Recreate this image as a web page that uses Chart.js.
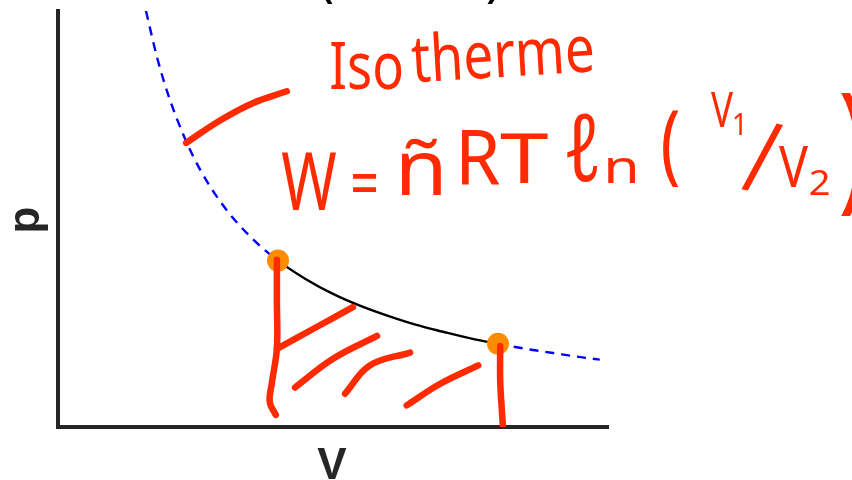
<!DOCTYPE html>
<html>
<head>
<meta charset="utf-8">
<script src="https://cdn.jsdelivr.net/npm/chart.js@4"></script>
<style>
  html, body { margin: 0; padding: 0; background: #fff; overflow: hidden; }
  #wrap { width: 852px; height: 480px; }
</style>
</head>
<body>
<div id="wrap"><canvas id="pv" width="852" height="480"></canvas></div>
<script>
// isotherm p = nRT / V (arbitrary units)
const isoV = [1.6, 1.8, 2.0, 2.3, 2.6, 3.0, 3.5, 4.0, 4.5, 5.0, 5.5, 6.0, 6.5, 7.0, 7.5, 8.0, 8.5, 9.0, 9.5, 9.85];
const isoP = [10.0, 8.89, 8.0, 6.96, 6.15, 5.33, 4.57, 4.0, 3.56, 3.2, 2.91, 2.67, 2.46, 2.29, 2.13, 2.0, 1.88, 1.78, 1.68, 1.62];

// start and end state of the expansion
const stateV = [4, 8];
const stateP = [4, 2];
const V1 = stateV[0], V2 = stateV[1];

// hand-drawn strokes, as [V, p] pairs
const pointerStroke = [[2.33, 6.83], [2.96, 7.38], [3.55, 7.79], [4.16, 8.07]];
const leftStroke = [[3.98, 4.02], [3.98, 3.02], [3.98, 1.90], [3.89, 1.07], [3.85, 0.60], [3.96, 0.29]];
const rightStroke = [[8.04, 1.95], [8.04, 1.12], [8.07, 0.40], [8.09, 0.0]];
const hatch1 = [[3.98, 1.88], [4.67, 2.38], [5.36, 2.88]];
const hatch2 = [[4.31, 0.95], [5.0, 1.64], [5.8, 2.19]];
const hatch3 = [[5.22, 0.80], [5.67, 1.48], [6.4, 1.79]];
const hatch4 = [[6.34, 0.52], [6.95, 1.04], [7.64, 1.48]];

const AXIS = '#262626';
const PEN = '#ff2a00';

const pts = arr => arr.map(([x, y]) => ({ x, y }));

function penStroke(arr) {
  return {
    data: pts(arr),
    showLine: true,
    borderColor: PEN,
    borderWidth: 6.5,
    borderCapStyle: 'round',
    borderJoinStyle: 'round',
    tension: 0.4,
    pointRadius: 0,
    fill: false
  };
}

// fit a string's ink box into [x0, x1] x [y0, y1]
function ink(ctx, text, font, box, rot) {
  ctx.save();
  ctx.font = font;
  ctx.textAlign = 'left';
  ctx.textBaseline = 'alphabetic';
  const m = ctx.measureText(text);
  const w = m.actualBoundingBoxLeft + m.actualBoundingBoxRight;
  const h = m.actualBoundingBoxAscent + m.actualBoundingBoxDescent;
  const [x0, x1, y0, y1] = box;
  const sy = (y1 - y0) / h;
  let sx = (x1 - x0) / w;
  sx = Math.min(Math.max(sx, sy * 0.75), sy * 1.3);
  ctx.translate((x0 + x1) / 2, (y0 + y1) / 2);
  if (rot) ctx.rotate(rot);
  ctx.scale(sx, sy);
  const cx = (m.actualBoundingBoxRight - m.actualBoundingBoxLeft) / 2;
  const cy = (m.actualBoundingBoxDescent - m.actualBoundingBoxAscent) / 2;
  ctx.fillText(text, -cx, -cy);
  ctx.restore();
}

const notes = {
  id: 'notes',
  afterDatasetsDraw(chart) {
    const ctx = chart.ctx;
    const area = chart.chartArea;

    // axis labels
    ctx.save();
    ctx.fillStyle = AXIS;
    ctx.font = 'bold 44px "Liberation Sans", Arial, sans-serif';
    ctx.textAlign = 'center';
    ctx.textBaseline = 'alphabetic';
    ctx.fillText('V', (area.left + area.right) / 2 - 1, area.bottom + 52);
    ctx.translate(area.left - 19, (area.top + area.bottom) / 2 + 1);
    ctx.rotate(-Math.PI / 2);
    ctx.fillText('p', 0, 0);
    ctx.restore();

    // title, sitting mostly above the frame
    ctx.save();
    ctx.fillStyle = '#000';
    ctx.font = 'bold 33px "Liberation Sans", Arial, sans-serif';
    ctx.textAlign = 'center';
    ctx.fillText('(T = konst.)', 410, -3);
    ctx.restore();

    // handwritten notes
    ctx.save();
    ctx.fillStyle = PEN;
    const f = '400 60px "Noto Sans", "DejaVu Sans", sans-serif';
    ink(ctx, 'Iso', f, [331, 402, 42, 90]);
    ink(ctx, 'therme', f, [411, 592, 27, 78], -0.06);
    ink(ctx, 'W', f, [283, 335, 153, 210]);
    ink(ctx, '=', f, [354, 375, 173, 192]);
    ink(ctx, 'ñ', f, [402, 442, 137, 195]);
    ink(ctx, 'R', f, [461, 500, 130, 185]);
    ink(ctx, 'T', f, [500, 548, 133, 183]);
    ink(ctx, 'ℓ', f, [567, 598, 113, 183]);
    ink(ctx, 'n', f, [606, 638, 158, 183]);
    ink(ctx, '(', f, [663, 679, 110, 188]);
    ink(ctx, 'V', f, [711, 733, 92, 127]);
    ink(ctx, '1', f, [734, 742, 113, 135]);
    ink(ctx, '/', f, [753, 771, 121, 193], 0.22);
    ink(ctx, 'V', f, [779, 808, 147, 187]);
    ink(ctx, '2', f, [810, 829, 170, 195]);
    ink(ctx, ')', f, [842, 864, 93, 217]);
    ctx.restore();
  }
};

const inProcess = c => c.p0.parsed.x >= V1 && c.p1.parsed.x <= V2;

new Chart(document.getElementById('pv'), {
  type: 'scatter',
  data: {
    datasets: [
      penStroke(pointerStroke),
      penStroke(leftStroke),
      penStroke(rightStroke),
      penStroke(hatch1),
      penStroke(hatch2),
      penStroke(hatch3),
      penStroke(hatch4),
      {
        data: stateV.map((v, i) => ({ x: v, y: stateP[i] })),
        pointRadius: 11,
        pointBackgroundColor: '#ff8c00',
        pointBorderWidth: 0,
        showLine: false
      },
      {
        data: isoV.map((v, i) => ({ x: v, y: isoP[i] })),
        showLine: true,
        cubicInterpolationMode: 'monotone',
        pointRadius: 0,
        borderWidth: 2.4,
        borderColor: '#0000ff',
        segment: {
          borderColor: c => inProcess(c) ? '#000000' : '#0000ff',
          borderDash: c => inProcess(c) ? [] : [9, 7]
        }
      }
    ]
  },
  options: {
    responsive: false,
    animation: false,
    devicePixelRatio: 1,
    layout: { padding: { left: 58, top: 7, right: 244, bottom: 53 } },
    plugins: { legend: { display: false }, tooltip: { enabled: false } },
    scales: {
      x: {
        type: 'linear', min: 0, max: 10,
        ticks: { display: false },
        grid: { display: false, drawTicks: false },
        border: { display: true, color: AXIS, width: 4 }
      },
      y: {
        type: 'linear', min: 0, max: 10,
        ticks: { display: false },
        grid: { display: false, drawTicks: false },
        border: { display: true, color: AXIS, width: 4 }
      }
    }
  },
  plugins: [notes]
});
</script>
</body>
</html>
